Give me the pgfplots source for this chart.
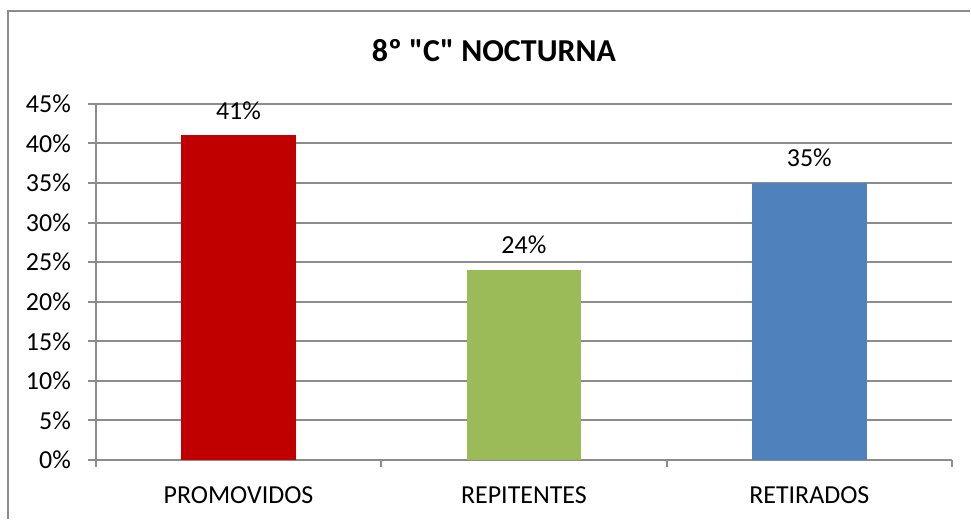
\documentclass[border=0pt]{standalone}
\usepackage{fontspec}
\setmainfont{Carlito}
\newfontfamily\plainfont{Carlito}[Ligatures=TeXOff]
\usepackage{pgfplots}
\pgfplotsset{compat=1.18}

\definecolor{promo}{HTML}{C00000}
\definecolor{repit}{HTML}{9BBB59}
\definecolor{retir}{HTML}{4F81BD}
\definecolor{gridc}{HTML}{8C8C8C}
\definecolor{framec}{HTML}{8C8C8C}

\begin{document}
\begin{tikzpicture}
% page size of the reference, at 0.5bp per pixel
\path (0,0) rectangle (485.5bp,260bp);
\draw[framec, line width=1bp] (4bp,0) -- (4bp,254.5bp) -- (486bp,254.5bp);
\node[anchor=base, font=\plainfont\fontsize{16bp}{19bp}\selectfont\bfseries]
  at (247.5bp,229.2bp) {8º "C" NOCTURNA};

\begin{axis}[
  at={(48bp,29.5bp)}, anchor=south west,
  scale only axis, width=429bp, height=178.5bp,
  xmin=-0.5, xmax=2.5, ymin=0, ymax=45,
  ytick={0,5,...,45},
  yticklabel={\pgfmathprintnumber{\tick}\%},
  xtick={0,1,2},
  xticklabels={PROMOVIDOS,REPITENTES,RETIRADOS},
  minor xtick={-0.5,0.5,1.5,2.5},
  major x tick style={draw=none},
  tick align=outside,
  major tick length=4bp, minor tick length=3.5bp,
  axis x line*=bottom, axis y line*=left,
  axis line style={gridc, line width=1bp, -},
  every tick/.style={gridc, line width=1bp},
  ymajorgrids, major grid style={gridc, line width=1bp},
  tick label style={font=\fontsize{13bp}{15bp}\selectfont},
  /pgf/number format/assume math mode=true,
  yticklabel style={xshift=-5bp},
  xticklabel style={yshift=-6bp},
  ybar, bar width=0.402, bar shift=0pt,
  nodes near coords={\pgfmathprintnumber{\pgfplotspointmeta}\%},
  every node near coord/.append style={font=\fontsize{13bp}{15bp}\selectfont, yshift=4.5bp},
  clip=false,
]
\addplot[fill=promo, draw=none] coordinates {(0,41)};
\addplot[fill=repit, draw=none] coordinates {(1,24)};
\addplot[fill=retir, draw=none] coordinates {(2,35)};
\end{axis}
\end{tikzpicture}
\end{document}
